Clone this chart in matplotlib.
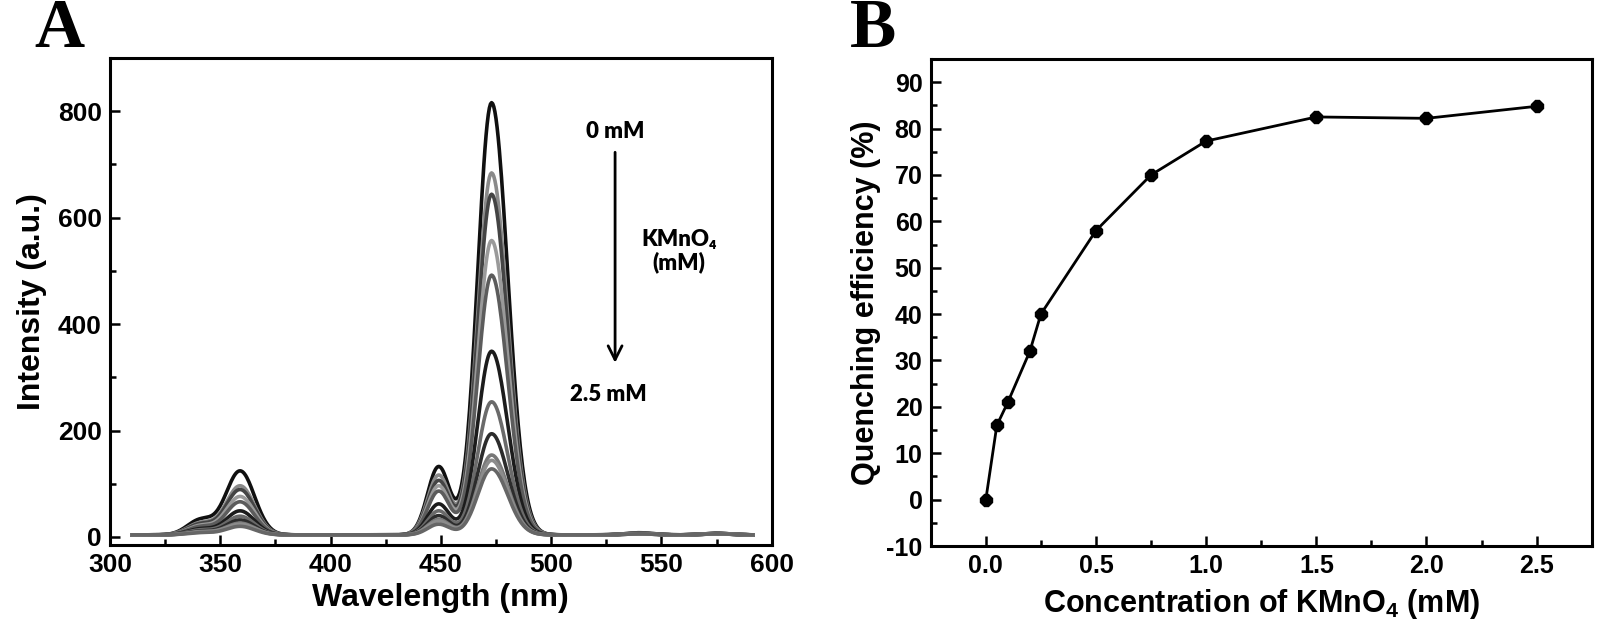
import numpy as np
import matplotlib
matplotlib.use('agg')
import matplotlib.pyplot as plt
from matplotlib.ticker import MultipleLocator

plt.rcParams['font.family'] = ['Liberation Sans', 'DejaVu Sans']
plt.rcParams['font.weight'] = 'bold'
plt.rcParams['axes.unicode_minus'] = False
plt.rcParams['mathtext.fontset'] = 'custom'
plt.rcParams['mathtext.rm'] = 'Liberation Sans:bold'
plt.rcParams['mathtext.bf'] = 'Liberation Sans:bold'
plt.rcParams['mathtext.default'] = 'bf'

# ---- panel A: emission spectra, one row per KMnO4 concentration ----
conc_mM = [0, 0.05, 0.1, 0.2, 0.25, 0.5, 0.75, 1.0, 1.5, 2.0, 2.5]
band_centers = [341, 359, 449, 473, 540, 575]          # nm
band_sigma_left = [6.0, 6.5, 5.0, 6.3, 6.0, 6.0]       # nm
band_sigma_right = [6.0, 6.5, 5.0, 7.3, 6.0, 6.0]      # nm
# peak heights for each band
h341 = [28, 22, 20, 17, 15, 11, 9, 7, 6, 5, 4]
h359 = [120, 92, 85, 72, 62, 45, 35, 28, 22, 20, 16]
h449 = [128, 112, 102, 92, 82, 58, 45, 36, 29, 26, 20]
h473 = [812, 680, 640, 553, 488, 345, 250, 190, 150, 140, 124]
h540 = [4, 4, 3, 3, 3, 3, 3, 2, 2, 2, 2]
h575 = [3, 3, 3, 2, 2, 2, 2, 2, 2, 2, 2]
baseline = 4
line_colors = ['#101010', '#8a8a8a', '#444444', '#9a9a9a', '#5c5c5c', '#1c1c1c',
               '#6a6a6a', '#2c2c2c', '#787878', '#8c8c8c', '#666666']

wavelength = np.arange(310, 592, 0.5)

# ---- panel B: quenching efficiency ----
conc_b = [0, 0.05, 0.1, 0.2, 0.25, 0.5, 0.75, 1.0, 1.5, 2.0, 2.5]
quench = [0, 16, 21, 32, 40, 58, 70, 77.3, 82.5, 82.2, 84.8]

fig = plt.figure(figsize=(15.97, 6.41), dpi=100)
axA = fig.add_axes([0.0689, 0.1498, 0.4143, 0.7598])
axB = fig.add_axes([0.5828, 0.1482, 0.4139, 0.7598])

for i in range(len(conc_mM)):
    heights = [h341[i], h359[i], h449[i], h473[i], h540[i], h575[i]]
    spec = np.full_like(wavelength, baseline, dtype=float)
    for c, sl, sr, h in zip(band_centers, band_sigma_left, band_sigma_right, heights):
        s = np.where(wavelength < c, sl, sr)
        spec += h * np.exp(-(wavelength - c) ** 2 / (2 * s ** 2))
    axA.plot(wavelength, spec, color=line_colors[i], lw=2.6)

axA.set_xlim(300, 600)
axA.set_ylim(-15, 900)
axA.xaxis.set_major_locator(MultipleLocator(50))
axA.xaxis.set_minor_locator(MultipleLocator(25))
axA.yaxis.set_major_locator(MultipleLocator(200))
axA.yaxis.set_minor_locator(MultipleLocator(100))
axA.set_xlabel('Wavelength (nm)', fontsize=23, fontweight='bold', labelpad=4)
axA.set_ylabel('Intensity (a.u.)', fontsize=23, fontweight='bold', labelpad=8)

axA.annotate('', xy=(529, 322), xytext=(529, 728),
             arrowprops=dict(arrowstyle='->', lw=2, color='black', mutation_scale=25))
anno_font = ['Lato', 'DejaVu Sans']
axA.text(529, 762, '0 mM', ha='center', va='center', fontsize=16, family=anno_font, fontweight='heavy')
axA.text(526, 268, '2.5 mM', ha='center', va='center', fontsize=16, family=anno_font, fontweight='heavy')
axA.text(558, 537, 'KMnO₄\n(mM)', ha='center', va='center', fontsize=16, family=anno_font,
         fontweight='heavy', linespacing=1.1)

axB.plot(conc_b, quench, color='black', lw=2, marker='8', markersize=9)
axB.set_xlim(-0.25, 2.75)
axB.set_ylim(-10, 95)
axB.xaxis.set_major_locator(MultipleLocator(0.5))
axB.xaxis.set_minor_locator(MultipleLocator(0.25))
axB.yaxis.set_major_locator(MultipleLocator(10))
axB.yaxis.set_minor_locator(MultipleLocator(5))
axB.set_xlabel(r'Concentration of KMnO$_4$ (mM)', fontsize=22, fontweight='bold', labelpad=6)
axB.set_ylabel('Quenching efficiency (%)', fontsize=22, fontweight='bold', labelpad=4)

for ax, fs in [(axA, 19), (axB, 18)]:
    for sp in ax.spines.values():
        sp.set_linewidth(2.2)
    ax.tick_params(which='major', direction='in', length=7, width=1.8, labelsize=fs,
                   top=False, right=False, pad=6)
    ax.tick_params(which='minor', direction='in', length=4, width=1.8, top=False, right=False)
    for lab in ax.get_xticklabels() + ax.get_yticklabels():
        lab.set_fontweight('bold')

fig.text(59 / 1597, 1 - 30 / 641, 'A', ha='center', va='center', fontsize=50,
         family='Liberation Serif', fontweight='bold')
fig.text(873 / 1597, 1 - 30 / 641, 'B', ha='center', va='center', fontsize=50,
         family='Liberation Serif', fontweight='bold')

fig.savefig('out.png', dpi=100)
